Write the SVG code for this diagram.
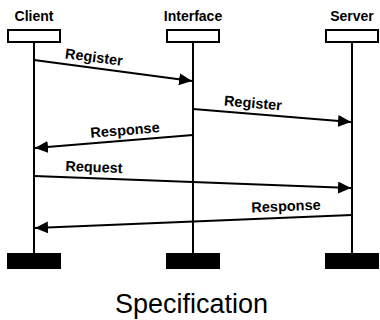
<svg xmlns="http://www.w3.org/2000/svg" width="380" height="320" viewBox="0 0 380 320">
<style>
.title{font-family:"Liberation Sans",Arial,sans-serif;font-weight:bold;font-size:14px;fill:#000;text-anchor:middle}
.lbl{font-family:"Liberation Sans",Arial,sans-serif;font-weight:bold;font-size:14.5px;fill:#000;text-anchor:middle}
.head{fill:#fff;stroke:#000;stroke-width:2}
.foot{fill:#000}
.life{stroke:#000;stroke-width:2}
.msg{stroke:#000;stroke-width:2;fill:none;marker-end:url(#ah)}
</style>
<defs>
<marker id="ah" markerWidth="13" markerHeight="12" refX="13" refY="6" orient="auto" markerUnits="userSpaceOnUse">
<path d="M0,0 L13,6 L0,12 Z" fill="#000"/>
</marker>
</defs>
<rect width="380" height="320" fill="#fff"/>
<g id="client">
<text class="title" x="34" y="21">Client</text>
<rect class="head" x="8" y="30" width="52" height="12"/>
<line class="life" x1="34" y1="43" x2="34" y2="254"/>
<rect class="foot" x="7" y="253" width="54" height="16"/>
</g>
<g id="interface">
<text class="title" x="193" y="21">Interface</text>
<rect class="head" x="167" y="30" width="52" height="12"/>
<line class="life" x1="193" y1="43" x2="193" y2="254"/>
<rect class="foot" x="166" y="253" width="54" height="16"/>
</g>
<g id="server">
<text class="title" x="352" y="21">Server</text>
<rect class="head" x="326" y="30" width="52" height="12"/>
<line class="life" x1="352" y1="43" x2="352" y2="254"/>
<rect class="foot" x="325" y="253" width="54" height="16"/>
</g>
<g id="connectors">
<line class="msg" x1="34" y1="60" x2="192" y2="81"/>
<text class="lbl" x="94" y="62" transform="rotate(7.5 94 57)">Register</text>
<line class="msg" x1="193" y1="109" x2="351" y2="122"/>
<text class="lbl" x="253" y="108" transform="rotate(4.7 253 103)">Register</text>
<line class="msg" x1="193" y1="135" x2="35" y2="148"/>
<text class="lbl" x="125" y="135" transform="rotate(-4.7 125 130)">Response</text>
<line class="msg" x1="34" y1="176" x2="351" y2="188"/>
<text class="lbl" x="94" y="172" transform="rotate(2.2 94 167)">Request</text>
<line class="msg" x1="352" y1="215" x2="35" y2="228"/>
<text class="lbl" x="286" y="211" transform="rotate(-2.3 286 206)">Response</text>
</g>
<text x="191.5" y="313" font-family="Liberation Sans, Arial, sans-serif" font-size="27" text-anchor="middle" fill="#000">Specification</text>
</svg>
